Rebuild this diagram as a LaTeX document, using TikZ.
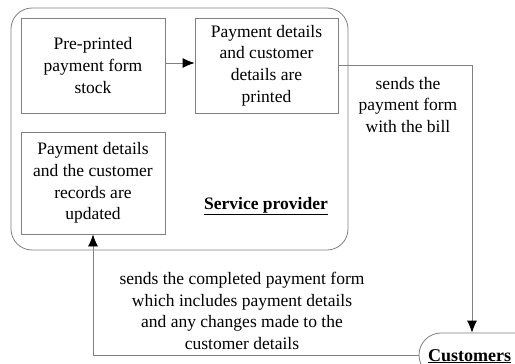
\documentclass[tikz,border=0pt]{standalone}
\usepackage{fontspec}
\setmainfont{Liberation Serif}
\usetikzlibrary{arrows.meta,calc}
\definecolor{linegray}{RGB}{128,128,128}
\begin{document}
\begin{tikzpicture}[x=1pt,y=-1pt,
  every node/.style={font=\fontsize{17.5}{21.6}\selectfont, align=center},
  procbox/.style={draw=linegray, line width=0.8pt, inner sep=0pt},
  conn/.style={draw=linegray, line width=0.8pt, -{Latex[length=12pt,width=10pt,color=black]}},
  plain/.style={inner sep=0pt}]
\useasboundingbox (0,0) rectangle (515,364);
\clip (0,0) rectangle (515,364);
% outer service provider container
\node[procbox, rounded corners=21pt, minimum width=337pt, minimum height=242pt] (sp) at (179.5,129) {};
\node[procbox, minimum width=144pt, minimum height=95pt] (b1) at (93,65.5) {Pre-printed\\payment form\\stock};
\node[procbox, minimum width=143pt, minimum height=95pt] (b2) at (266.5,65.5) {Payment details\\and customer\\details are\\printed};
\node[procbox, minimum width=144pt, minimum height=102pt] (b3) at (93,183) {Payment details\\and the customer\\records are\\updated};
\node[plain] (splabel) at (266,206) {\underline{\textbf{Service provider}}};
% customers
\node[procbox, rounded corners=22pt, minimum width=130pt, minimum height=44pt] (cust) at (484,355) {};
\node[plain, anchor=base west, font=\fontsize{18}{21.6}\selectfont] (custlabel) at (428,361) {\underline{\textbf{Customers}}};
\coordinate (rx) at (472,0);
% labels
\node[plain] (lab1) at (408,105) {sends the\\payment form\\with the bill};
\node[plain] (lab2) at (242,311) {sends the completed payment form\\which includes payment details\\and any changes made to the\\customer details};
% connectors
\draw[conn] (b1.east |- 0,63) -- (b2.west |- 0,63);
\draw[conn] (b2.east) -| (rx |- cust.north);
\draw[conn] (cust.west) -| (b3.south);
\end{tikzpicture}
\end{document}
